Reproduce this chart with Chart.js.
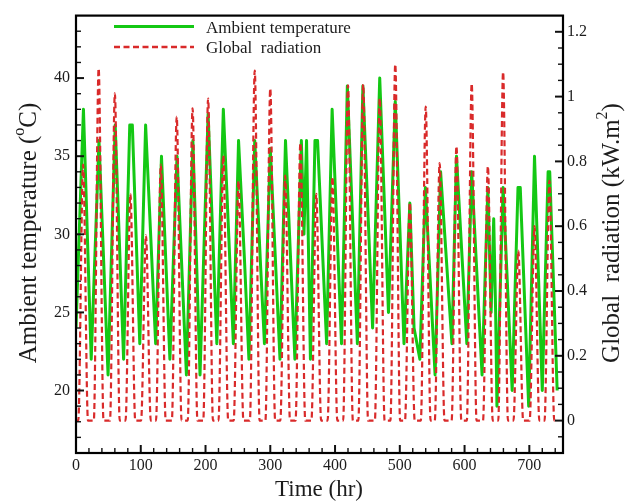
<!DOCTYPE html>
<html><head><meta charset="utf-8">
<script src="https://cdn.jsdelivr.net/npm/chart.js@4.4.1/dist/chart.umd.min.js"></script>
<style>html,body{margin:0;padding:0;background:#fff;}canvas{display:block;}</style>
</head><body>
<canvas id="c" width="633" height="503"></canvas>
<script>
// ---- data ----
const tempTime = [0,11.5,23.5,35.5,49.5,60.5,73.5,83,87,98.5,107.5,123,132,145,156,170.5,180.5,191.5,204,217.5,227.5,243,251,260,267,276,285,291,300,315,323.5,338,348,352,356,362,369,373,387,395.5,410,419,434.5,443,458,469,482.5,493,506.5,515.5,522,531,539.5,554.5,563,580.5,587.5,603.5,611,627,636,641,645,648,650,659.5,673.5,682.5,686,699,708,720,729,731.5,743];
const tempValue = [24,38,22,36,21,37,22,37,37,23,37,23,35,22,35,21,36,21,37.7,23,38,23,36,28.5,22,36,28,23,35.5,22,36,22,36,30,36,22,36,36,23,38,23,39.5,23,39.5,24,40,25,38.5,23,32,24,22,33,21,34,23,35,23,34,21,33,25,31,25,19,33,20,33,33,19,35,20,34,34,20];

const radRise = [3.5,27.5,52.5,76.5,100.5,123.5,148,172.5,196.5,220,243.5,268.5,292.5,315.5,339,363.5,388.5,412.5,436,461.5,485.5,508,532.5,554,580,603.5,628.5,652,675.5,700.5,723.5];
const radNoon = [11,35,60,84,108,131,155.5,180,204,227.5,251,276,300,323,346.5,371,396,420,443.5,469,493,515.5,540,561.5,587.5,611,636,659.5,683,708,731];
const radSet  = [18.5,42.5,67.5,91.5,115.5,138.5,163,187.5,211.5,235,258.5,283.5,307.5,330.5,354,378.5,403.5,427.5,451,476.5,500.5,523,547.5,569,595,618.5,643.5,667,690.5,715.5,738.5];
const radPeak = [0.79,1.087,1.01,0.70,0.572,0.79,0.938,0.964,0.994,0.818,0.74,1.08,1.025,0.756,0.857,0.70,0.752,1.035,1.038,0.995,1.10,0.673,0.969,0.795,0.847,1.04,0.785,1.076,0.525,0.60,0.74];
const radStart = 0, radEnd = 744;

const timeTicks = [0,100,200,300,400,500,600,700];
const tempTicks = [20,25,30,35,40];
const radTicks = [0,0.2,0.4,0.6,0.8,1,1.2];

// ---- build tables ----
const tempData = tempTime.map((t,i)=>({x:t,y:tempValue[i]}));
const radData = [{x:radStart,y:0}];
radNoon.forEach((n,i)=>{ radData.push({x:radRise[i],y:0},{x:n,y:radPeak[i]},{x:radSet[i],y:0}); });
radData.push({x:radEnd,y:0});

const GREEN = '#14c814', RED = '#d92a2a', INK = '#1c1c1c';
const SERIF = '"Liberation Serif", "Times New Roman", serif';

function richText(ctx, parts, size, cx, cy, rot){
  ctx.save(); ctx.translate(cx,cy); ctx.rotate(rot);
  const main = size+'px '+SERIF, sup = Math.round(size*0.62)+'px '+SERIF;
  let w=0;
  parts.forEach(p=>{ctx.font=p.sup?sup:main; p.w=ctx.measureText(p.t).width; w+=p.w;});
  let x=-w/2; ctx.textBaseline='middle'; ctx.textAlign='left'; ctx.fillStyle=INK;
  parts.forEach(p=>{ctx.font=p.sup?sup:main; ctx.fillText(p.t,x,p.sup?-size*0.36:0); x+=p.w;});
  ctx.restore();
}

const deco = {
  id:'deco',
  afterDraw(chart){
    const {ctx, chartArea:a, scales} = chart;
    const X=scales.x, L=scales.yT, R=scales.yR;
    ctx.save();
    ctx.strokeStyle='#111';
    const tick=(x1,y1,x2,y2,w)=>{ctx.lineWidth=w;ctx.beginPath();ctx.moveTo(x1,y1);ctx.lineTo(x2,y2);ctx.stroke();};
    for(let v=20; v<750; v+=20){const x=X.getPixelForValue(v);const m=v%100===0;tick(x,a.bottom,x,a.bottom-(m?8:5),m?2:1.4);}
    for(let v=17; v<=43; v++){const y=L.getPixelForValue(v);const m=v%5===0;tick(a.left,y,a.left+(m?8:5),y,m?2:1.4);}
    for(let k=-1; k<=24; k++){const y=R.getPixelForValue(k*0.05);const m=k%4===0;tick(a.right,y,a.right-(m?8:5),y,m?2:1.4);}
    ctx.lineWidth=2.2; ctx.strokeStyle='#000';
    ctx.strokeRect(a.left,a.top,a.right-a.left,a.bottom-a.top);
    // legend
    const ds = chart.data.datasets;
    ctx.lineCap='butt';
    ctx.strokeStyle=ds[1].borderColor; ctx.lineWidth=3; ctx.setLineDash([]);
    ctx.beginPath(); ctx.moveTo(114,26.5); ctx.lineTo(194,26.5); ctx.stroke();
    ctx.strokeStyle=ds[0].borderColor; ctx.lineWidth=2.4; ctx.setLineDash(ds[0].borderDash);
    ctx.beginPath(); ctx.moveTo(114,47); ctx.lineTo(194,47); ctx.stroke();
    ctx.setLineDash([]);
    ctx.fillStyle=INK; ctx.font='17px '+SERIF; ctx.textAlign='left'; ctx.textBaseline='alphabetic';
    ctx.fillText(ds[1].label,206,32.5);
    ctx.fillText(ds[0].label,206,52.5);
    // axis titles
    richText(ctx,[{t:'Ambient temperature ('},{t:'o',sup:true},{t:'C)'}],25,29,233,-Math.PI/2);
    richText(ctx,[{t:'Global  radiation (kW.m'},{t:'2',sup:true},{t:')'}],25,612,233,-Math.PI/2);
    richText(ctx,[{t:'Time (hr)'}],23,319,490,0);
    ctx.restore();
  }
};

const fmt = v => String(Math.round(v*100)/100);
const tickFont = {family:SERIF, size:16};

new Chart(document.getElementById('c'), {
  type:'scatter',
  data:{datasets:[
    {label:'Global  radiation', data:radData, yAxisID:'yR', showLine:true, borderColor:RED, borderWidth:2.2,
     borderDash:[6,3.5], pointRadius:0, cubicInterpolationMode:'monotone', order:0},
    {label:'Ambient temperature', data:tempData, yAxisID:'yT', showLine:true, borderColor:GREEN, borderWidth:3,
     pointRadius:0, tension:0, borderJoinStyle:'round', order:1}
  ]},
  options:{
    responsive:false, animation:false, devicePixelRatio:1,
    layout:{padding:{top:11,left:0,right:0,bottom:0}},
    plugins:{legend:{display:false}, tooltip:{enabled:false}},
    scales:{
      x:{type:'linear', min:0, max:752, grid:{display:false, drawTicks:false}, border:{display:false},
         ticks:{font:tickFont, color:INK, padding:3, autoSkip:false, maxRotation:0, callback:fmt},
         afterBuildTicks:s=>{s.ticks=timeTicks.map(v=>({value:v}));},
         afterFit:s=>{s.height=50;}},
      yT:{type:'linear', position:'left', min:16, max:44, grid:{display:false, drawTicks:false}, border:{display:false},
         ticks:{font:tickFont, color:INK, padding:6, callback:fmt},
         afterBuildTicks:s=>{s.ticks=tempTicks.map(v=>({value:v}));},
         afterFit:s=>{s.width=76;}},
      yR:{type:'linear', position:'right', min:-0.1, max:1.25, grid:{display:false, drawTicks:false}, border:{display:false},
         ticks:{font:tickFont, color:INK, padding:4, callback:fmt},
         afterBuildTicks:s=>{s.ticks=radTicks.map(v=>({value:v}));},
         afterFit:s=>{s.width=70;}}
    }
  },
  plugins:[deco]
});
</script>
</body></html>
